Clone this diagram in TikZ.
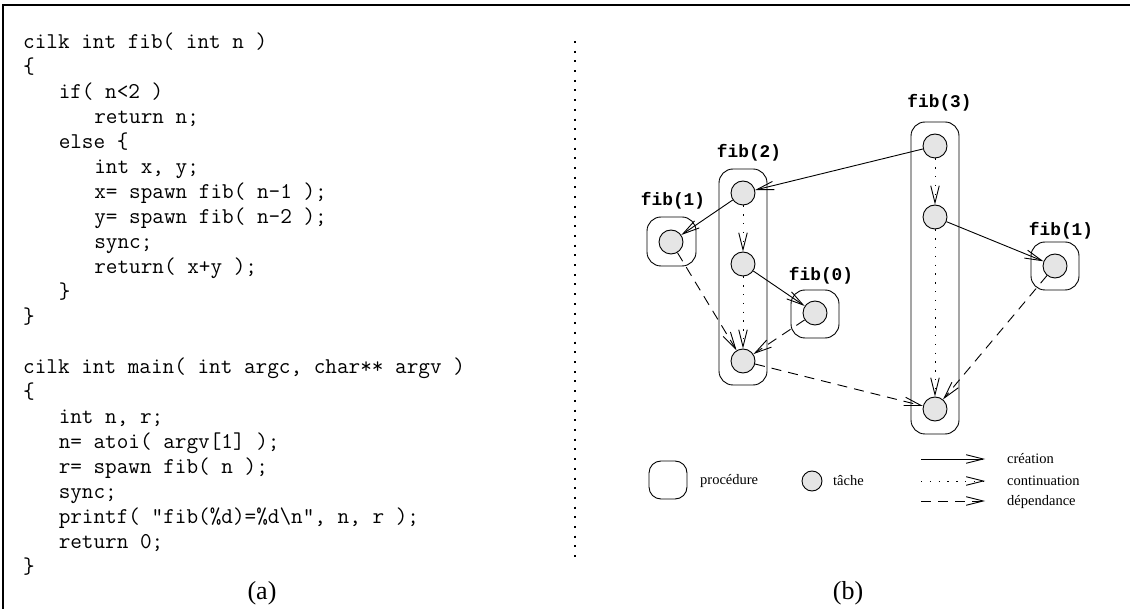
\documentclass[tikz,border=0pt]{standalone}
\usepackage{fontspec}
\setmainfont{Liberation Serif}
\newfontfamily\labelfont{Liberation Mono}
\usetikzlibrary{arrows.meta}
\definecolor{taskgray}{gray}{0.9}
\begin{document}
\begin{tikzpicture}[x=1pt,y=-1pt,
  task/.style={circle,draw,fill=taskgray,minimum size=24pt,inner sep=0pt,line width=0.9pt},
  proc/.style={draw,rounded corners=14pt,line width=0.9pt,inner sep=0pt},
  lbl/.style={inner sep=0pt,font=\labelfont\bfseries\fontsize{17.8}{20}\selectfont},
  code/.style={anchor=base west,inner sep=0pt,font=\ttfamily\fontsize{22.57}{25}\selectfont},
  leg/.style={anchor=west,inner sep=0pt,font=\fontsize{14.5}{16}\selectfont},
  caption/.style={inner sep=0pt,font=\fontsize{26}{30}\selectfont},
  creation/.style={-{Straight Barb[length=17pt,width=8.5pt]},line width=0.9pt},
  cont/.style={creation,dash pattern=on 1.3pt off 7.5pt},
  dep/.style={creation,dash pattern=on 10pt off 7pt},
]
\useasboundingbox (0,0) rectangle (1130,609);
% frame
\draw[line width=2.2pt] (3,609) -- (3,5) -- (1130,5);
% separator
\draw[line width=1.4pt,dash pattern=on 2pt off 7.7pt] (575,41) -- (575,563);

% code
\node[code] (c1)  at (23,48.5)    {cilk int fib( int n )};
\node[code] (c2)  at (23,73.5)    {\{};
\node[code] (c3)  at (58.55,98.5) {if( n<2 )};
\node[code] (c4)  at (94.1,123.5) {return n;};
\node[code] (c5)  at (58.55,148.5){else \{};
\node[code] (c6)  at (94.1,173.5) {int x, y;};
\node[code] (c7)  at (94.1,198.5) {x= spawn fib( n-1 );};
\node[code] (c8)  at (94.1,223.5) {y= spawn fib( n-2 );};
\node[code] (c9)  at (94.1,248.5) {sync;};
\node[code] (c10) at (94.1,273.5) {return( x+y );};
\node[code] (c11) at (58.55,298.5){\}};
\node[code] (c12) at (23,323.5)   {\}};
\node[code] (c14) at (23,373.5)   {cilk int main( int argc, char** argv )};
\node[code] (c15) at (23,398.5)   {\{};
\node[code] (c16) at (58.55,423.5){int n, r;};
\node[code] (c17) at (58.55,448.5){n= atoi( argv[1] );};
\node[code] (c18) at (58.55,473.5){r= spawn fib( n );};
\node[code] (c19) at (58.55,498.5){sync;};
\node[code] (c20) at (58.55,523.5){printf( "fib(\%d)=\%d\textbackslash n", n, r );};
\node[code] (c21) at (58.55,548.5){return 0;};
\node[code] (c22) at (23,573.5)   {\}};
\node[caption] (capa) at (262,593) {(a)};
\node[caption] (capb) at (848,593) {(b)};

% procedures
\node[proc,minimum width=48pt,minimum height=216pt] (P2) at (743,277) {};
\node[proc,minimum width=49pt,minimum height=49pt] (P1L) at (671.5,241.5) {};
\node[proc,minimum width=48pt,minimum height=48pt] (P0) at (815,314) {};
\node[proc,minimum width=48pt,minimum height=312pt] (P3) at (935,278) {};
\node[proc,minimum width=48pt,minimum height=48pt] (P1R) at (1055,266) {};

% labels
\node[lbl] (L2) at (749,153) {fib(2)};
\node[lbl] (L1L) at (673,201) {fib(1)};
\node[lbl] (L0) at (821,276) {fib(0)};
\node[lbl] (L3) at (939.5,103) {fib(3)};
\node[lbl] (L1R) at (1061,231) {fib(1)};

% tasks
\node[task] (a1) at (743,193) {};
\node[task] (a2) at (743,264) {};
\node[task] (a3) at (743,361) {};
\node[task] (l1) at (671,242) {};
\node[task] (z1) at (815,313) {};
\node[task] (b1) at (935,146) {};
\node[task] (b2) at (935,217) {};
\node[task] (b3) at (935,409) {};
\node[task] (r1) at (1055,266) {};

% edges
\draw[creation] (b1) -- (a1);
\draw[creation] (a1) -- (l1);
\draw[cont] (a1) -- (a2);
\draw[cont] (a2) -- (a3);
\draw[creation] (a2) -- (z1);
\draw[dep] (l1) -- (a3);
\draw[dep] (z1) -- (a3);
\draw[dep] (a3) -- (b3);
\draw[cont] (b1) -- (b2);
\draw[cont] (b2) -- (b3);
\draw[creation] (b2) -- (r1);
\draw[dep] (r1) -- (b3);

% legend
\node[proc,rounded corners=12pt,minimum width=38pt,minimum height=38pt] (lp) at (668,480) {};
\node[leg] (lpt) at (700,481) {procédure};
\node[task,minimum size=20pt] (lt) at (812,481) {};
\node[leg] (ltt) at (833,481) {tâche};
\coordinate (s1) at (921,459); \coordinate (e1) at (985,459);
\coordinate (s2) at (921,481); \coordinate (e2) at (985,481);
\coordinate (s3) at (921,501); \coordinate (e3) at (985,501);
\draw[creation] (s1) -- (e1);
\draw[cont] (s2) -- (e2);
\draw[dep] (s3) -- (e3);
\node[leg] (t1) at (1007,459) {création};
\node[leg] (t2) at (1007,481) {continuation};
\node[leg] (t3) at (1007,502) {dépendance};
\end{tikzpicture}
\end{document}
